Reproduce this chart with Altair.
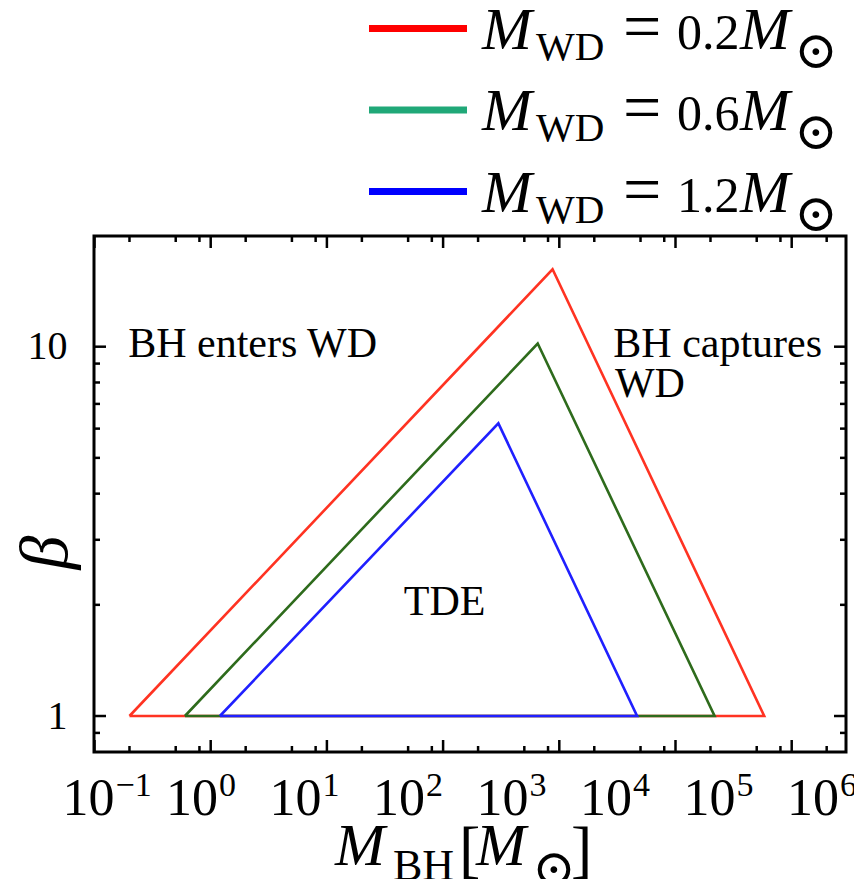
import json
import altair as alt
import pandas as pd

# ---------------- data ----------------
series = ["0.2", "0.6", "1.2"]            # M_WD / M_sun
left_x = [0.2, 0.6, 1.2]                  # M_BH of left vertex (beta = 1)
apex_x = [875, 652, 299]                  # M_BH at apex
apex_y = [16.2, 10.2, 6.2]                # beta at apex
right_x = [5.8e4, 2.17e4, 4.67e3]         # M_BH of right vertex (beta = 1)
base_beta = [1, 1, 1]
line_colors = ["#ff3322", "#2e6b1c", "#2020ff"]
legend_colors = ["#ff0000", "#20a878", "#0000ff"]

x_major = [0.1, 1, 10, 100, 1e3, 1e4, 1e5]
x_minor = [0.2, 0.5, 0.8, 2, 5, 8, 20, 50, 80, 200, 500, 800,
           2e3, 5e3, 8e3, 2e4, 5e4, 8e4, 2e5]
y_major = [1, 10]
y_minor = [0.9, 2, 3, 4, 5, 6, 7, 8, 9]
x_label_values = [0.1, 1, 10, 100, 1e3, 1e4, 1e5, 1e6]
x_label_base = ["10"] * 8
x_label_exp = ["−1", "0", "1", "2", "3", "4", "5", "6"]
y_tick_labels = ["1", "10"]

annot_left_text = ["BH enters WD", "BH captures", "WD"]
annot_left_x = [0.195, 2917, 3013]
annot_left_y = [9.4, 9.4, 7.33]
annot_center_text = ["TDE"]
annot_center_x = [103]
annot_center_y = [1.877]

legend_symbol, legend_sub, legend_eq, legend_unit, legend_sun = "M", "WD", "=", "M", "⊙"
title_parts = ["M", "BH", "[", "M", "⊙", "]"]
y_title = "β"

# ---------------- tables ----------------
rows = []
for s, lx, ax, ay, rx, b in zip(series, left_x, apex_x, apex_y, right_x, base_beta):
    pts = [(lx, b), (ax, ay), (rx, b), (lx, b)]
    for k, (px, py) in enumerate(pts):
        rows.append({"series": s, "M": px, "beta": py, "order": k})
tri = pd.DataFrame(rows)
annot_l = pd.DataFrame({"text": annot_left_text, "x": annot_left_x, "y": annot_left_y})
annot_c = pd.DataFrame({"text": annot_center_text, "x": annot_center_x, "y": annot_center_y})
legend_df = pd.DataFrame({"idx": [0, 1, 2], "value": series, "color": legend_colors})
one = pd.DataFrame({"k": [0]})
xlab_df = pd.DataFrame({"v": x_label_values, "base": x_label_base, "exp": x_label_exp})

SERIF = "Liberation Serif"
SYM = "DejaVu Serif"
W, H = 752, 516
XDOM = [10 ** -1.0043, 10 ** 5.4673]
YDOM = [0.799, 19.94]
xs = alt.Scale(type="log", domain=XDOM, nice=False)
ys = alt.Scale(type="log", domain=YDOM, nice=False)
xs_lab = alt.Scale(type="log", domain=[10 ** -1.024, 10 ** 6.242], nice=False)

# ---------------- triangles ----------------
lines = alt.Chart(tri).mark_line(strokeWidth=2.6, clip=True).encode(
    x=alt.X("M:Q", scale=xs, axis=None),
    y=alt.Y("beta:Q", scale=ys, axis=None),
    color=alt.Color("series:N", scale=alt.Scale(domain=series, range=line_colors), legend=None),
    order="order:Q",
    detail="series:N",
)

# ---------------- inward ticks (drawn through the scales) ----------------
def xticks(values, size, top):
    d = pd.DataFrame({"v": values})
    y0, y1 = (0, size) if top else (H - size, H)
    return alt.Chart(d).mark_rule(strokeWidth=2.5, color="black").encode(
        x=alt.X("v:Q", scale=xs, axis=None), y=alt.value(y0), y2=alt.value(y1))


def yticks(values, size, right):
    d = pd.DataFrame({"v": values})
    x0, x1 = (W - size, W) if right else (0, size)
    return alt.Chart(d).mark_rule(strokeWidth=2.5, color="black").encode(
        y=alt.Y("v:Q", scale=ys, axis=None), x=alt.value(x0), x2=alt.value(x1))


tick_layers = [
    xticks(x_major, 12, False), xticks(x_minor, 6, False),
    xticks(x_major, 12, True), xticks(x_minor, 6, True),
    yticks(y_major, 12, False), yticks(y_minor, 6, False),
    yticks(y_major, 12, True), yticks(y_minor, 6, True),
]

# ---------------- x tick labels (10 + superscript) ----------------
xlab_base = alt.Chart(xlab_df).mark_text(
    align="right", baseline="alphabetic", dx=18, font=SERIF, fontSize=52, color="black"
).encode(x=alt.X("v:Q", scale=xs_lab, axis=None), y=alt.value(H + 63), text="base:N")
xlab_exp = alt.Chart(xlab_df).mark_text(
    align="left", baseline="alphabetic", dx=19, dy=-19, font=SERIF, fontSize=34, color="black"
).encode(x=alt.X("v:Q", scale=xs_lab, axis=None), y=alt.value(H + 63), text="exp:N")

# ---------------- annotations + y labels ----------------
ylabel_expr = f"{json.dumps(y_tick_labels, ensure_ascii=False)}[round(log(datum.value)/LN10)]"

annots_l = alt.Chart(annot_l).mark_text(font=SERIF, fontSize=42, baseline="alphabetic",
                                        align="left", color="black").encode(
    x=alt.X("x:Q", scale=xs, axis=None),
    y=alt.Y("y:Q", scale=ys, axis=alt.Axis(
        orient="left", values=y_major, ticks=False, tickSize=0, domain=False, grid=False,
        labelExpr=ylabel_expr, labelFont=SERIF, labelFontSize=40, labelColor="black",
        labelPadding=27, title=y_title, titleFont=SERIF, titleFontStyle="italic",
        titleFontWeight="normal", titleFontSize=68, titleColor="black",
        titleX=-48, titleY=316, titleBaseline="middle", titleAlign="center")),
    text="text:N",
)
annots_c = alt.Chart(annot_c).mark_text(font=SERIF, fontSize=42, baseline="alphabetic",
                                        align="center", color="black").encode(
    x=alt.X("x:Q", scale=xs, axis=None),
    y=alt.Y("y:Q", scale=ys, axis=None),
    text="text:N",
)

# ---------------- legend ----------------
yleg = alt.Scale(domain=[0, 2], range=[-187.5, -24.5])
leg_y = alt.Y("idx:Q", scale=yleg, axis=None)

leg_lines = alt.Chart(legend_df).mark_rule(strokeWidth=7, yOffset=-20).encode(
    x=alt.value(275), x2=alt.value(373), y=leg_y,
    color=alt.Color("color:N", scale=None),
)


def leg_piece(text, x, size, style="normal", dy=0, font=SERIF, field=False):
    kw = dict(align="left", baseline="alphabetic", font=font, fontSize=size,
              fontStyle=style, dy=dy, color="black")
    if not field:
        kw["text"] = text
    enc = dict(x=alt.value(x), y=leg_y)
    if field:
        enc["text"] = alt.Text("value:N")
    return alt.Chart(legend_df).mark_text(**kw).encode(**enc)


leg = [
    leg_lines,
    leg_piece(legend_symbol, 388, 60, "italic"),
    leg_piece(legend_sub, 442, 41, dy=11),
    leg_piece(legend_eq, 529, 68),
    leg_piece(None, 583, 50, field=True),
    leg_piece(legend_unit, 646, 60, "italic"),
    leg_piece(legend_sun, 700, 52, dy=19, font=SYM),
]


def title_piece(text, x, y, size, style="normal", font=SERIF):
    return alt.Chart(one).mark_text(text=text, align="left", baseline="alphabetic",
                                    font=font, fontSize=size, fontStyle=style,
                                    color="black").encode(x=alt.value(x), y=alt.value(y))


tparts = [
    title_piece(title_parts[0], 241, 629, 60, "italic"),
    title_piece(title_parts[1], 299, 644, 44),
    title_piece(title_parts[2], 365, 634, 64),
    title_piece(title_parts[3], 382, 629, 60, "italic"),
    title_piece(title_parts[4], 438, 650, 52, font=SYM),
    title_piece(title_parts[5], 477, 634, 64),
]

chart = alt.layer(
    lines, *tick_layers, annots_l, annots_c, xlab_base, xlab_exp, *leg, *tparts
).resolve_scale(x="independent", y="independent", color="independent").properties(
    width=W, height=H,
    autosize=alt.AutoSizeParams(type="none"),
    padding={"left": 86, "top": 228, "right": 8, "bottom": 127},
    background="white",
).configure_view(stroke="black", strokeWidth=3)

chart.save("out.html", embed_options={"renderer": "svg", "actions": False})
